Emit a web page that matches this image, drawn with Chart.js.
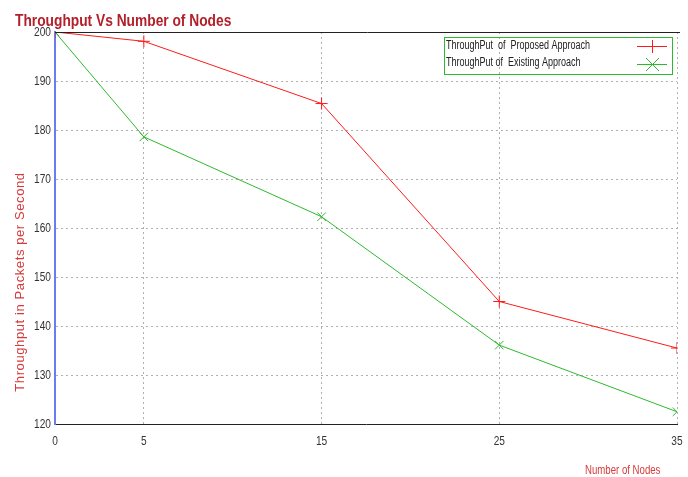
<!DOCTYPE html>
<html>
<head>
<meta charset="utf-8">
<script src="https://cdn.jsdelivr.net/npm/chart.js@4.4.0/dist/chart.umd.min.js"></script>
<style>
  html, body { margin: 0; padding: 0; background: #fff; }
  #wrap { width: 688px; height: 477px; }
</style>
</head>
<body>
<div id="wrap"><canvas id="chart" width="688" height="477"></canvas></div>
<script>
/* datos */
const nodes = [0, 5, 15, 25, 35];
const proposed = [200, 198.1, 185.4, 145.0, 135.5];
const existing = [200, 178.6, 162.3, 136.1, 122.5];
const xTicks = [0, 5, 15, 25, 35];
const labelProposed = 'ThroughPut  of  Proposed Approach';
const labelExisting = 'ThroughPut of  Existing Approach';

const sans = "'Liberation Sans', Arial, sans-serif";
const red = '#ff1a1a';
const green = '#2fb82f';

// texto comprimido en horizontal (la fuente original es "narrow")
function narrowText(ctx, text, x, y, font, sx, align) {
  ctx.save();
  ctx.font = font;
  ctx.translate(x, y);
  ctx.scale(sx, 1);
  ctx.textAlign = align || 'left';
  ctx.fillText(text, 0, 0);
  ctx.restore();
}

// titulos, etiquetas, leyenda y borde superior
const extras = {
  id: 'extras',
  afterDraw(chart) {
    const ctx = chart.ctx;
    const a = chart.chartArea;
    const xs = chart.scales.x;
    const ys = chart.scales.y;
    ctx.save();

    // linea superior
    ctx.strokeStyle = '#222';
    ctx.lineWidth = 1;
    ctx.beginPath();
    ctx.moveTo(a.left, a.top + 0.5);
    ctx.lineTo(a.right + 3, a.top + 0.5);
    ctx.stroke();

    // etiquetas de los ejes
    ctx.fillStyle = '#333';
    ctx.textBaseline = 'middle';
    ys.ticks.forEach((t, i) => {
      narrowText(ctx, String(t.value), 51, ys.getPixelForTick(i), '13px ' + sans, 0.78, 'right');
    });
    xs.ticks.forEach((t, i) => {
      narrowText(ctx, String(t.value), xs.getPixelForTick(i), 441, '13px ' + sans, 0.78, 'center');
    });

    // titulo
    ctx.fillStyle = '#b3202a';
    ctx.textBaseline = 'alphabetic';
    narrowText(ctx, 'Throughput Vs Number of Nodes', 15, 26, 'bold 16px ' + sans, 0.86);

    // eje y
    ctx.save();
    ctx.translate(24, 282);
    ctx.rotate(-Math.PI / 2);
    ctx.textAlign = 'center';
    ctx.fillStyle = '#d63a3a';
    ctx.font = "13px " + sans;
    if ('letterSpacing' in ctx) ctx.letterSpacing = '0.6px';
    ctx.fillText('Throughput in Packets per Second', 0, 0);
    ctx.restore();

    // eje x
    ctx.fillStyle = '#d63a3a';
    narrowText(ctx, 'Number of Nodes', 585, 474, '13px ' + sans, 0.74);

    // leyenda
    ctx.strokeStyle = green;
    ctx.lineWidth = 1;
    ctx.strokeRect(444.5, 37.5, 228, 37);
    ctx.fillStyle = '#222';
    ctx.textBaseline = 'middle';
    narrowText(ctx, labelProposed, 446, 46, '12px ' + sans, 0.75);
    narrowText(ctx, labelExisting, 446, 63, '12px ' + sans, 0.75);

    ctx.strokeStyle = red;
    ctx.beginPath();
    ctx.moveTo(637, 46.5); ctx.lineTo(667, 46.5);
    ctx.moveTo(652.5, 40); ctx.lineTo(652.5, 53);
    ctx.stroke();

    ctx.strokeStyle = green;
    ctx.beginPath();
    ctx.moveTo(637, 64.5); ctx.lineTo(667, 64.5);
    ctx.moveTo(646, 58); ctx.lineTo(659, 71);
    ctx.moveTo(659, 58); ctx.lineTo(646, 71);
    ctx.stroke();

    ctx.restore();
  }
};

new Chart(document.getElementById('chart'), {
  type: 'line',
  data: {
    datasets: [
      {
        label: labelProposed,
        data: nodes.map((n, i) => ({ x: n, y: proposed[i] })),
        borderColor: red,
        borderWidth: 1,
        pointStyle: 'cross',
        pointRadius: 6,
        pointBorderColor: red,
        pointBorderWidth: 1,
        tension: 0
      },
      {
        label: labelExisting,
        data: nodes.map((n, i) => ({ x: n, y: existing[i] })),
        borderColor: green,
        borderWidth: 1,
        pointStyle: 'crossRot',
        pointRadius: 6,
        pointBorderColor: green,
        pointBorderWidth: 1,
        tension: 0
      }
    ]
  },
  options: {
    responsive: false,
    animation: false,
    layout: { padding: { top: 32, right: 11, left: 0, bottom: 0 } },
    plugins: {
      legend: { display: false },
      title: { display: false },
      tooltip: { enabled: false }
    },
    scales: {
      x: {
        type: 'linear',
        min: 0,
        max: 35,
        afterBuildTicks: (scale) => { scale.ticks = xTicks.map(v => ({ value: v })); },
        afterFit: (scale) => { scale.height = 53; scale.paddingLeft = 0; scale.paddingRight = 0; },
        grid: {
          color: (c) => c.tick && c.tick.value === 0 ? 'rgba(0,0,0,0)' : '#b0b0b0',
          lineWidth: 1,
          drawTicks: false
        },
        border: { display: true, color: '#222', width: 1, dash: [2, 3] },
        ticks: { display: false, autoSkip: false }
      },
      y: {
        min: 120,
        max: 200,
        afterFit: (scale) => { scale.width = 55; scale.paddingTop = 0; scale.paddingBottom = 0; },
        grid: {
          color: (c) => c.tick && (c.tick.value === 120 || c.tick.value === 200) ? 'rgba(0,0,0,0)' : '#b0b0b0',
          lineWidth: 1,
          drawTicks: false
        },
        border: { display: true, color: '#6a7cf0', width: 2, dash: [2, 3] },
        ticks: { display: false, stepSize: 10 }
      }
    }
  },
  plugins: [extras]
});
</script>
</body>
</html>
